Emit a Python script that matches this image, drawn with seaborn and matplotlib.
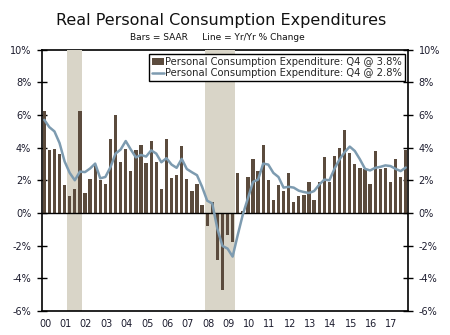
import matplotlib
matplotlib.use("Agg")
import matplotlib.pyplot as plt
import seaborn as sns
import pandas as pd
import numpy as np

# Quarterly data 2000Q1 .. 2017Q4
years = [f"{y:02d}" for y in range(0, 18)]
quarters = [f"20{y}Q{q}" for y in years for q in range(1, 5)]

saar = [6.22, 3.88, 3.94, 3.61,
        1.69, 1.06, 1.45, 6.25,
        1.20, 2.06, 2.86, 2.00,
        1.78, 4.52, 6.00, 3.13,
        3.92, 2.58, 3.86, 4.14,
        3.07, 4.38, 3.13, 1.49,
        4.52, 2.12, 2.35, 4.12,
        2.10, 1.37, 1.78, 0.51,
        -0.82, 0.67, -2.86, -4.69,
        -1.33, -1.80, 2.45, 0.10,
        2.18, 3.31, 2.57, 4.16,
        2.03, 0.81, 1.73, 1.32,
        2.45, 0.66, 1.03, 1.09,
        1.90, 0.81, 1.90, 3.42,
        1.92, 3.48, 3.96, 5.07,
        3.69, 3.01, 2.74, 2.66,
        1.79, 3.81, 2.70, 2.74,
        1.92, 3.28, 2.19, 3.84]

yoy = [5.70, 5.25, 4.99, 4.28,
       3.15, 2.45, 2.00, 2.53,
       2.50, 2.72, 3.02, 2.12,
       2.20, 2.80, 3.63, 3.88,
       4.40, 3.88, 3.40, 3.55,
       3.45, 3.83, 3.63, 3.10,
       3.35, 2.96, 2.76, 3.31,
       2.69, 2.49, 2.31, 1.60,
       0.75, 0.58, -0.97, -2.02,
       -2.18, -2.67, -1.35, -0.10,
       0.90, 1.90, 2.04, 3.02,
       2.96, 2.45, 2.20, 1.55,
       1.60, 1.55, 1.36, 1.28,
       1.22, 1.34, 1.73, 2.04,
       2.00, 2.70, 3.28, 3.72,
       4.06, 3.79, 3.28, 2.70,
       2.60, 2.76, 2.82, 2.91,
       2.87, 2.70, 2.56, 2.78]

# recession periods as (first quarter index, last quarter index)
recessions = [(5, 7), (32, 37)]

bar_label = "Personal Consumption Expenditure: Q4 @ 3.8%"
line_label = "Personal Consumption Expenditure: Q4 @ 2.8%"

df = pd.DataFrame({"q": np.arange(len(quarters)), "saar": saar, "yoy": yoy})

sns.set_style("white")
plt.rcParams["font.family"] = ["DejaVu Sans"]

fig = plt.figure(figsize=(4.5, 3.35), dpi=100)
ax = fig.add_axes([0.0927, 0.0716, 0.8146, 0.7806])

bar_col = "#5b4b3d"
line_col = "#7d9bb0"
shade_col = "#d9d5c8"

for a, b in recessions:
    ax.axvspan(a - 0.5, b + 0.5, color=shade_col, zorder=1, lw=0)

sns.barplot(data=df, x="q", y="saar", color=bar_col, width=0.64,
            saturation=1, ax=ax, zorder=3, label=bar_label,
            linewidth=0, edgecolor=bar_col)
sns.lineplot(x=df["q"].to_numpy(), y=df["yoy"].to_numpy(), color=line_col,
             lw=1.8, ax=ax, zorder=4, label=line_label)
ax.axhline(0, color="black", lw=1.0, zorder=3.5)

ax.set_xlim(-0.5, len(quarters) - 0.5)
ax.set_ylim(-6, 10)
ax.set_xlabel("")
ax.set_ylabel("")

# x ticks: boundaries (major) and year labels (minor)
ax.set_xticks([4 * k - 0.5 for k in range(len(years) + 1)])
ax.set_xticklabels([])
ax.set_xticks([4 * k + 0.2 for k in range(len(years))], minor=True)
ax.set_xticklabels(years, minor=True)
ax.tick_params(axis="x", which="major", direction="inout", length=7, width=1, color="black")
ax.tick_params(axis="x", which="minor", length=0, pad=6, labelsize=7, labelcolor="#1c1c2e")

yt = list(range(-6, 11, 2))
ax.set_yticks(yt)
ax.set_yticklabels([f"{v}%" for v in yt])
ax.tick_params(axis="y", direction="inout", length=7, width=1, color="black",
               labelsize=7, labelcolor="#1c1c2e", left=True, right=True,
               labelleft=True, labelright=True, pad=4)

for s in ["left", "right", "bottom"]:
    ax.spines[s].set_color("black")
    ax.spines[s].set_linewidth(1.2)
    ax.spines[s].set_zorder(5)
ax.spines["top"].set_color("black")
ax.spines["top"].set_linewidth(1.2)
ax.spines["top"].set_zorder(0.5)

handles, labels = ax.get_legend_handles_labels()
order = [labels.index(bar_label), labels.index(line_label)]
leg = ax.legend([handles[i] for i in order], [labels[i] for i in order],
                loc="upper right", bbox_to_anchor=(0.991, 0.983), borderaxespad=0,
                fontsize=7.2, frameon=True, fancybox=False, framealpha=1,
                edgecolor="black", handlelength=1.2, handletextpad=0.1,
                borderpad=0.3, labelspacing=0.15)
leg.get_frame().set_linewidth(1.0)
leg.set_zorder(6)

fig.text(0.492, 0.94, "Real Personal Consumption Expenditures", ha="center",
         va="center", fontsize=11.5, color="#111111")
fig.text(0.484, 0.888, "Bars = SAAR     Line = Yr/Yr % Change", ha="center",
         va="center", fontsize=6.5, color="#111111")

fig.savefig("out.png", dpi=100)
